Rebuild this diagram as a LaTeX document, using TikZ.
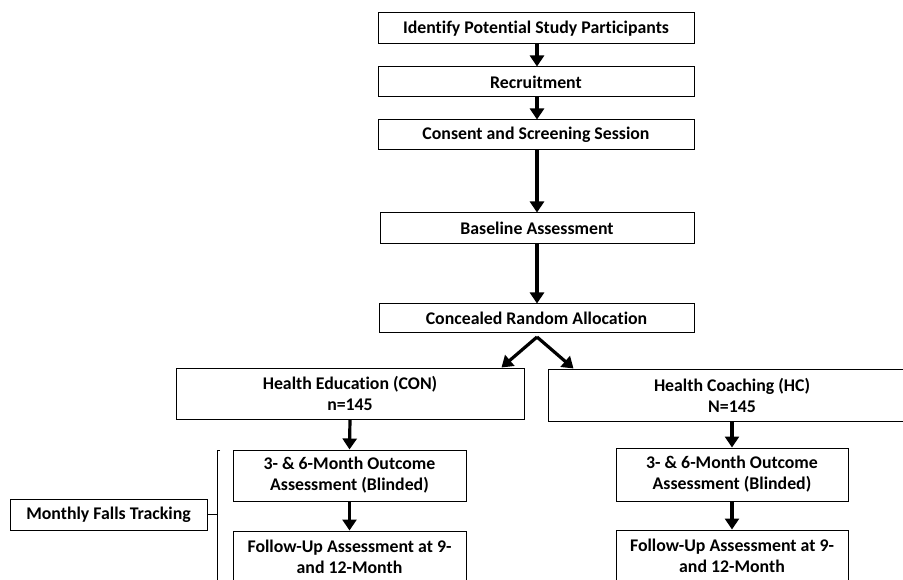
\documentclass[tikz,border=0pt]{standalone}
\usepackage{fontspec}
\setmainfont{Carlito}[Ligatures=NoCommon]
\usetikzlibrary{arrows.meta}
\begin{document}
\begin{tikzpicture}[x=1pt,y=-1pt,
  box/.style={draw, line width=1pt, font=\fontsize{17.8pt}{21pt}\selectfont\bfseries, align=center, inner sep=0pt},
  arr/.style={line width=3.2pt, -{Triangle[length=11pt,width=14pt]}},
  thin/.style={line width=0.8pt}]
\useasboundingbox (0,0) rectangle (903,580);
\clip (0,0) rectangle (903,580);
\node[box, minimum width=316pt, minimum height=31pt] (b1) at (536,28.5) {Identify Potential Study Participants};
\node[box, minimum width=316pt, minimum height=30pt] (b2) at (536,82) {Recruitment};
\node[box, minimum width=316pt, minimum height=30pt] (b3) at (536,135) {Consent and Screening Session};
\node[box, minimum width=314pt, minimum height=31pt] (b4) at (537,228.5) {Baseline Assessment};
\node[box, minimum width=315pt, minimum height=29pt] (b5) at (536.5,318.5) {Concealed Random Allocation};
\node[box, minimum width=348pt, minimum height=51pt] (con) at (350,393.5) {Health Education (CON)\\n=145};
\node[box, minimum width=368pt, minimum height=52pt] (hc) at (732,395) {Health Coaching (HC)\\N=145};
\node[box, minimum width=233pt, minimum height=51pt] (co) at (349.5,475.5) {3- \& 6-Month Outcome\\Assessment (Blinded)};
\node[box, minimum width=233pt, minimum height=51pt] (cf) at (349.5,556.5) {Follow-Up Assessment at 9-\\and 12-Month};
\node[box, minimum width=232pt, minimum height=53pt] (ho) at (732,474.5) {3- \& 6-Month Outcome\\Assessment (Blinded)};
\node[box, minimum width=232pt, minimum height=52pt] (hf) at (732,556) {Follow-Up Assessment at 9-\\and 12-Month};
\node[box, minimum width=197pt, minimum height=31pt] (mft) at (108.5,514.5) {Monthly Falls Tracking};
\draw[arr] (b1.south -| 537,0) -- (b2.north -| 537,0);
\draw[arr] (b2.south -| 537,0) -- (b3.north -| 537,0);
\draw[arr] (b3.south -| 537,0) -- (b4.north -| 537,0);
\draw[arr] (b4.south -| 537,0) -- (b5.north -| 537,0);
\coordinate (split) at (537,337);
\draw[arr] (split) -- ([xshift=-23pt]con.north east);
\draw[arr] (split) -- ([xshift=26pt]hc.north west);
\draw[arr] (con.south) -- (co.north);
\draw[arr] (co.south) -- (cf.north);
\draw[arr] (hc.south) -- (ho.north);
\draw[arr] (ho.south) -- (hf.north);
\coordinate (brtop) at (217,450);
\coordinate (brbot) at (217,590);
\draw[thin] ([xshift=3pt]brtop) -- (brtop) -- (brbot);
\draw[thin] (mft.east) -- (mft.east -| brtop);
\end{tikzpicture}
\end{document}
